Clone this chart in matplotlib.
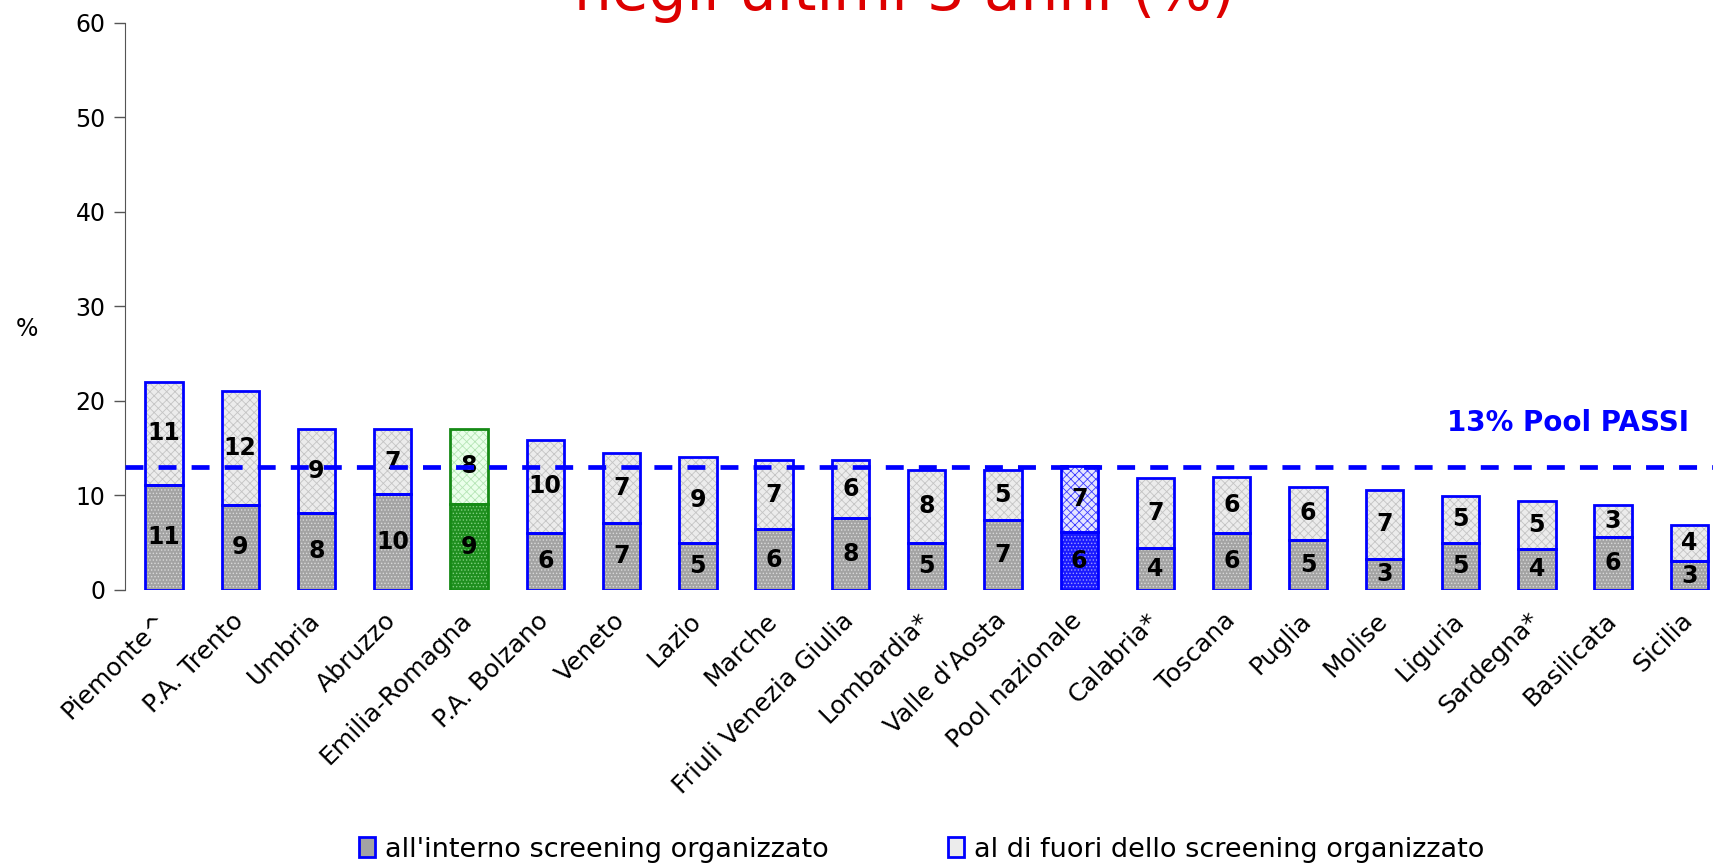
import matplotlib.pyplot as plt
import matplotlib.transforms as mtransforms
import numpy as np

plt.rcParams['font.family'] = ['DejaVu Sans']
plt.rcParams['hatch.linewidth'] = 0.6

# data
regioni = ["Piemonte^", "P.A. Trento", "Umbria", "Abruzzo", "Emilia-Romagna", "P.A. Bolzano",
           "Veneto", "Lazio", "Marche", "Friuli Venezia Giulia", "Lombardia*", "Valle d'Aosta",
           "Pool nazionale", "Calabria*", "Toscana", "Puglia", "Molise", "Liguria", "Sardegna*",
           "Basilicata", "Sicilia"]
interno = [11.1, 9.0, 8.1, 10.1, 9.1, 6.0, 7.1, 5.0, 6.4, 7.6, 5.0, 7.4,
           6.1, 4.4, 6.0, 5.3, 3.3, 5.0, 4.3, 5.6, 3.0]
esterno = [10.9, 12.0, 8.9, 6.9, 7.9, 9.9, 7.4, 9.0, 7.3, 6.1, 7.7, 5.3,
           7.0, 7.4, 5.9, 5.6, 7.3, 4.9, 5.1, 3.4, 3.9]
pool_passi = 13
legend_labels = ["all'interno screening organizzato", "al di fuori dello screening organizzato"]
titolo = "negli ultimi 3 anni (%)"

# colours: default gray, Emilia-Romagna green, pool blue
n = len(regioni)
edge = ['#0000ff'] * n
low_face = ['#a3a3a3'] * n
low_hatch = ['#d9d9d9'] * n
up_face = ['#ececec'] * n
up_hatch = ['#c4c4c4'] * n
i_er = regioni.index("Emilia-Romagna")
edge[i_er] = '#158a15'
low_face[i_er] = '#1f8f1f'
low_hatch[i_er] = '#7fd07f'
up_face[i_er] = '#eaffea'
up_hatch[i_er] = '#b5e5b5'
i_pool = regioni.index("Pool nazionale")
low_face[i_pool] = '#1a1aff'
low_hatch[i_pool] = '#9a9aff'
up_face[i_pool] = '#e4e4ff'
up_hatch[i_pool] = '#3a3aff'

fig = plt.figure(figsize=(17.13, 8.66), dpi=100)
ax = fig.add_axes([0.073, 0.319, 0.927, 0.6545])

x = np.arange(n)
w = 0.49
for i in range(n):
    ax.bar(x[i], interno[i], w, color=low_face[i], edgecolor=low_hatch[i], hatch='.....', linewidth=0)
    ax.bar(x[i], esterno[i], w, bottom=interno[i], color=up_face[i], edgecolor=up_hatch[i],
           hatch='xxxx', linewidth=0)
    ax.bar(x[i], interno[i], w, fill=False, edgecolor=edge[i], linewidth=2)
    ax.bar(x[i], esterno[i], w, bottom=interno[i], fill=False, edgecolor=edge[i], linewidth=2)
    ax.text(x[i], interno[i] / 2, f"{interno[i]:.0f}", ha='center', va='center',
            fontsize=17, fontweight='bold', color='black')
    ax.text(x[i], interno[i] + esterno[i] / 2, f"{esterno[i]:.0f}", ha='center', va='center',
            fontsize=17, fontweight='bold', color='black')

ax.axhline(pool_passi, color='#0000ff', linewidth=3.4, linestyle=(0, (3.8, 3.2)), zorder=5)
ax.text(20.0, pool_passi + 4.6, f"{pool_passi}% Pool PASSI", ha='right', va='center',
        fontsize=20, fontweight='bold', color='#0000ff')

ax.set_xlim(-0.51, 20.31)
ax.set_ylim(0, 60)
ax.set_yticks(range(0, 61, 10))
ax.tick_params(axis='y', labelsize=17, length=8, width=1, color='#555555', pad=6)
ax.set_xticks(x)
ax.set_xticklabels(regioni, rotation=45, ha='right', rotation_mode='anchor', fontsize=18)
ax.tick_params(axis='x', length=0, pad=12)
shift = mtransforms.ScaledTranslation(-9 / 100, -2 / 100, fig.dpi_scale_trans)
for lab in ax.get_xticklabels():
    lab.set_transform(lab.get_transform() + shift)
for s in ['top', 'right', 'bottom']:
    ax.spines[s].set_visible(False)
ax.spines['left'].set_color('#555555')

fig.text(0.016, 0.62, "%", fontsize=17, ha='center', va='center')
fig.text(0.528, 0.989, titolo, fontsize=43, color='#dd0000', ha='center', va='baseline')

h1 = plt.Rectangle((0, 0), 1, 1, facecolor='#a3a3a3', edgecolor='#0000ff', linewidth=2)
h2 = plt.Rectangle((0, 0), 1, 1, facecolor='#ececec', edgecolor='#0000ff', linewidth=2)
fig.legend([h1, h2], legend_labels, loc='center', bbox_to_anchor=(0.538, 0.019), ncol=2,
           frameon=False, fontsize=19.5, handlelength=0.6, handleheight=0.8,
           handletextpad=0.35, columnspacing=4.4)

fig.savefig("out.png", dpi=100)
